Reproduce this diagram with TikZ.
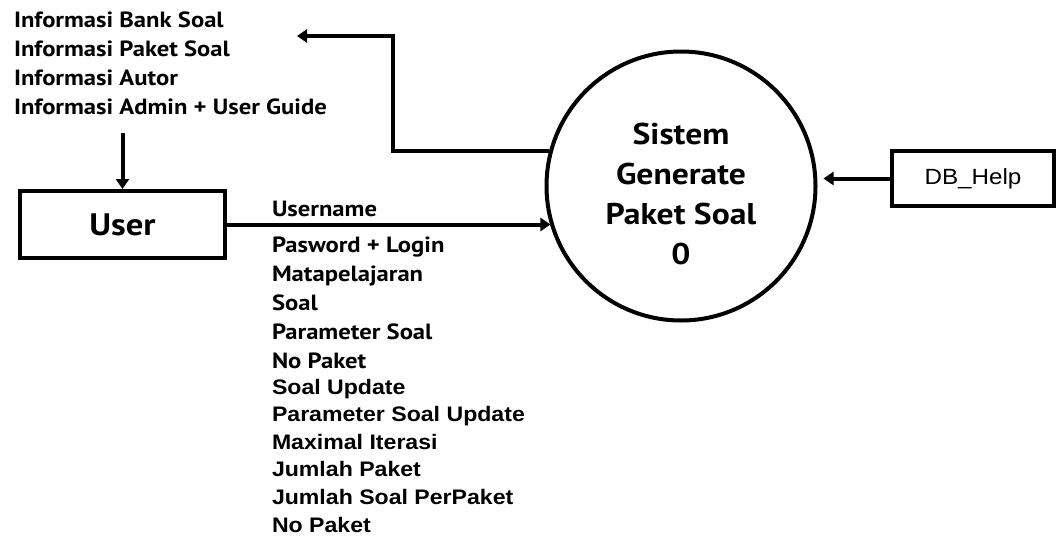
\documentclass[tikz,border=0pt]{standalone}
\usepackage{fontspec}
\setmainfont[FakeStretch=1.12]{PT Sans}
\newfontfamily\arialfont[FakeStretch=1.1]{Liberation Sans}
\usetikzlibrary{positioning,arrows.meta}

\begin{document}
\begin{tikzpicture}[
  x=1pt, y=-1pt,
  line width=4pt,
  node distance=4pt,
  flow/.style={-{Triangle[length=10pt,width=13pt]}},
  entity/.style={draw, minimum width=205pt, minimum height=67pt, font=\bfseries\fontsize{31}{36}\selectfont},
  proses/.style={draw, circle, minimum size=269pt, align=center, text height=158pt, font=\bfseries\fontsize{30}{40}\selectfont},
  info/.style={align=left, inner sep=0pt, font=\bfseries\fontsize{22}{29}\selectfont},
  lbl/.style={align=left, inner sep=0pt, font=\bfseries\fontsize{22}{29}\selectfont},
  lblarial/.style={align=left, inner sep=0pt, font=\arialfont\bfseries\fontsize{21}{27.6}\selectfont}
]
\useasboundingbox (0,0) rectangle (1058,541);

\node[info, anchor=north west] (infoout) at (12,10) {Informasi Bank Soal\\Informasi Paket Soal\\Informasi Autor\\Informasi Admin + User Guide};
\node[entity] (user) at (122.5,224.5) {User};
\node[proses] (sistem) at (681,186) {Sistem\\Generate\\Paket Soal\\0};
\node[draw, minimum width=162pt, minimum height=55pt, font=\arialfont\fontsize{22}{26}\selectfont] (dbhelp) at (973,178.5) {DB\_Help};

% data flow labels
\node[lbl, anchor=south west] (unama) at (270,219) {Username};
\node[lbl, anchor=north west] (masuk) at (270,235) {Pasword + Login\\Matapelajaran\\Soal\\Parameter Soal\\No Paket};
\node[lblarial, below=6pt of masuk.south west, anchor=north west] (update) {Soal Update\\Parameter Soal Update\\Maximal Iterasi\\Jumlah Paket\\Jumlah Soal PerPaket\\No Paket};

\coordinate (belok) at (393,36);
\coordinate (outtip) at (297,36);

\draw[flow] (sistem.165) -| (belok) -- (outtip);
\draw[flow] (user.north |- infoout.south) ++(0,16) -- (user.north);
\draw[flow] (user.east) -- (user.east -| sistem.197);
\draw[flow, shorten >=6pt] (dbhelp.west) -- (dbhelp.west -| sistem.east);
\end{tikzpicture}
\end{document}
